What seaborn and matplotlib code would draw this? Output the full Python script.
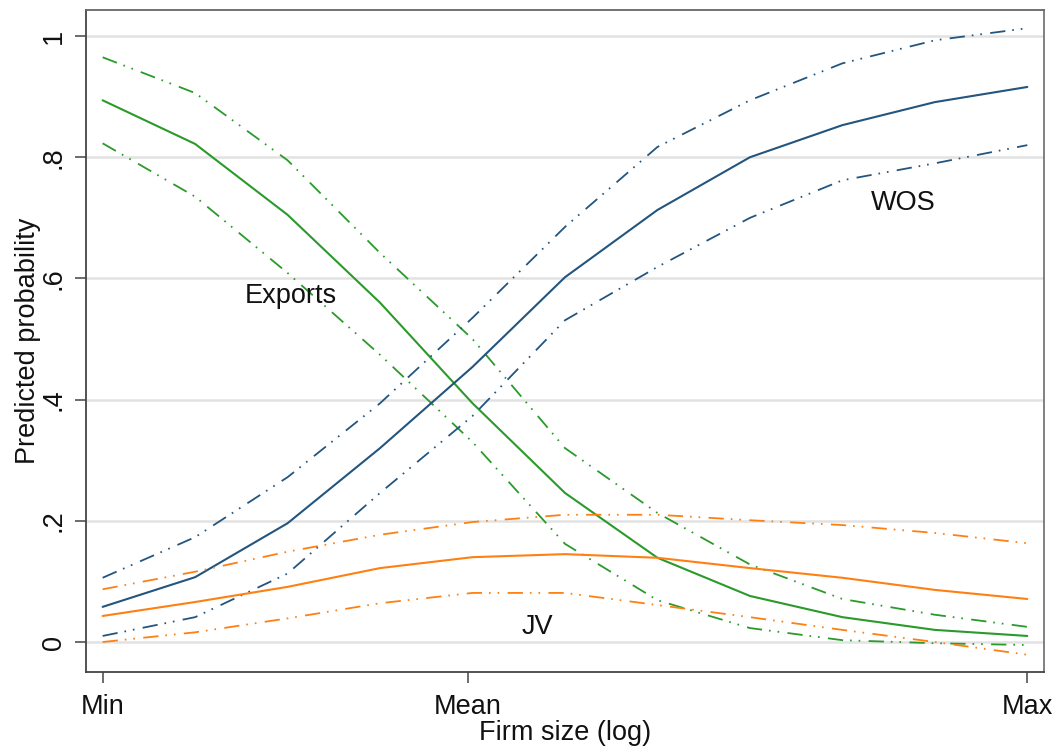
import numpy as np
import pandas as pd
import matplotlib
matplotlib.use("Agg")
import matplotlib.pyplot as plt
import seaborn as sns

# Firm size grid (log scale, rescaled so min = 0 and max = 1)
firm_size = [0.0, 0.1, 0.2, 0.3, 0.4, 0.5, 0.6, 0.7, 0.8, 0.9, 1.0]

# Predicted probabilities with 95% confidence bounds
exports_est = [0.894, 0.822, 0.705, 0.560, 0.394, 0.246, 0.139, 0.076, 0.041, 0.020, 0.010]
exports_hi = [0.965, 0.906, 0.795, 0.642, 0.500, 0.320, 0.213, 0.128, 0.071, 0.045, 0.025]
exports_lo = [0.823, 0.735, 0.609, 0.474, 0.330, 0.162, 0.069, 0.023, 0.003, -0.002, -0.005]

wos_est = [0.058, 0.107, 0.196, 0.320, 0.454, 0.602, 0.713, 0.800, 0.853, 0.891, 0.916]
wos_hi = [0.106, 0.173, 0.272, 0.394, 0.535, 0.685, 0.817, 0.894, 0.955, 0.993, 1.013]
wos_lo = [0.010, 0.041, 0.113, 0.246, 0.373, 0.531, 0.619, 0.700, 0.762, 0.790, 0.820]

jv_est = [0.043, 0.066, 0.091, 0.122, 0.140, 0.145, 0.139, 0.122, 0.106, 0.086, 0.071]
jv_hi = [0.087, 0.116, 0.149, 0.177, 0.198, 0.210, 0.210, 0.201, 0.193, 0.180, 0.163]
jv_lo = [0.000, 0.016, 0.039, 0.064, 0.081, 0.081, 0.061, 0.041, 0.020, 0.000, -0.021]

x_tick_pos = [0.0, 0.395, 1.0]
x_tick_labels = ["Min", "Mean", "Max"]
y_ticks = [0, 0.2, 0.4, 0.6, 0.8, 1.0]
y_tick_labels = ["0", ".2", ".4", ".6", ".8", "1"]

series = {
    "Exports": (exports_est, exports_hi, exports_lo),
    "WOS": (wos_est, wos_hi, wos_lo),
    "JV": (jv_est, jv_hi, jv_lo),
}
rows = []
for mode, (est, hi, lo) in series.items():
    for kind, vals in (("est", est), ("hi", hi), ("lo", lo)):
        for xv, yv in zip(firm_size, vals):
            rows.append({"size": xv, "prob": yv, "mode": mode, "kind": kind})
df = pd.DataFrame(rows)

sns.set_theme(style="white")
plt.rcParams["font.family"] = ["Liberation Sans", "DejaVu Sans"]
plt.rcParams["lines.scale_dashes"] = False

palette = {"Exports": "#2a9a2a", "WOS": "#23557f", "JV": "#ff8012"}
ci_dash = (11, 5, 1.2, 5, 1.2, 6)
dashes = {"est": "", "hi": ci_dash, "lo": ci_dash}

fig = plt.figure(figsize=(10.59, 7.47), dpi=100)
ax = fig.add_axes([0.0812, 0.1004, 0.9046, 0.8862])

for yv in y_ticks:
    ax.axhline(yv, color="#e2e2e2", lw=1.8, zorder=0)

sns.lineplot(data=df, x="size", y="prob", hue="mode", style="kind",
             palette=palette, dashes=dashes, estimator=None, sort=False,
             legend=False, lw=1.5, ax=ax)
for ln in ax.get_lines():
    if ln.get_linestyle() != "-":
        ln.set_linewidth(1.3)

ax.set_xlim(-0.018, 1.018)
ax.set_ylim(-0.0495, 1.043)
ax.set_xticks(x_tick_pos)
ax.set_xticklabels(x_tick_labels)
ax.set_yticks(y_ticks)
ax.set_yticklabels(y_tick_labels, rotation=90, va="center")
ax.tick_params(axis="both", which="major", direction="out", length=8, width=1.1,
               color="#444444", labelsize=19.5, labelcolor="#111111", pad=6,
               left=True, bottom=True)
ax.tick_params(axis="x", pad=8)
ax.set_xlabel("Firm size (log)", fontsize=19.5, color="#111111", labelpad=0)
ax.set_ylabel("Predicted probability", fontsize=19.5, color="#111111", labelpad=0)

for side in ["left", "bottom", "top", "right"]:
    ax.spines[side].set_visible(True)
    ax.spines[side].set_linewidth(1.3)
ax.spines["left"].set_color("#444444")
ax.spines["bottom"].set_color("#444444")
ax.spines["top"].set_color("#666666")
ax.spines["right"].set_color("#777777")

ax.text(0.203, 0.571, "Exports", fontsize=19.5, ha="center", va="center", color="#111111")
ax.text(0.866, 0.724, "WOS", fontsize=19.5, ha="center", va="center", color="#111111")
ax.text(0.470, 0.025, "JV", fontsize=19.5, ha="center", va="center", color="#111111")

fig.savefig("out.png", dpi=100, facecolor="white")
